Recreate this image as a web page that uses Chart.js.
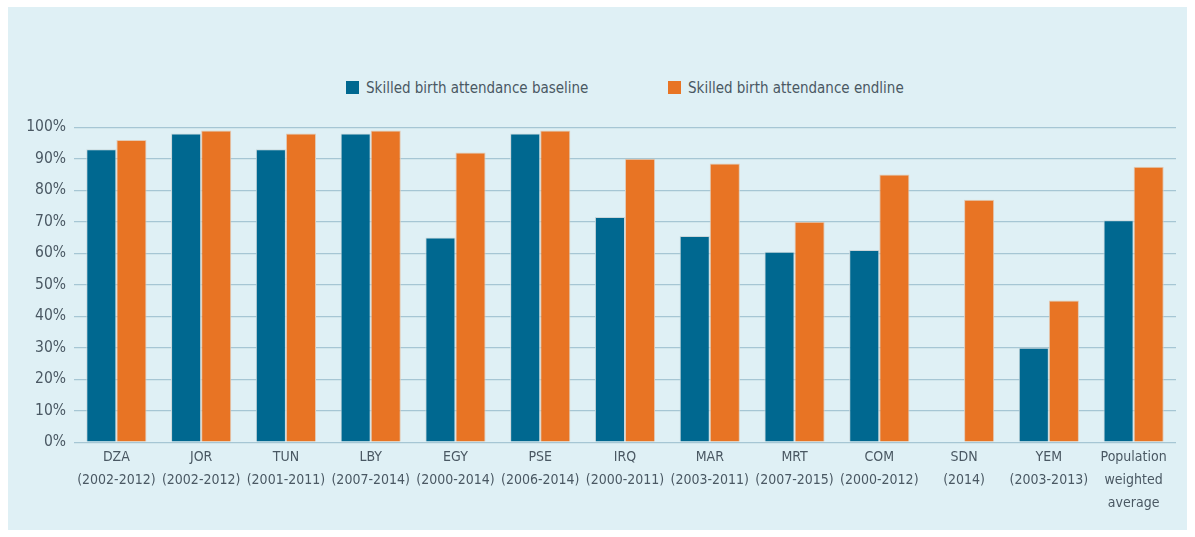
<!DOCTYPE html>
<html>
<head>
<meta charset="utf-8">
<script src="https://cdn.jsdelivr.net/npm/chart.js@4/dist/chart.umd.min.js"></script>
<style>
  body { margin: 0; background: #fff; font-family: "DejaVu Sans Condensed", "Liberation Sans", sans-serif; }
  .panel { position: absolute; left: 8px; top: 7px; width: 1179px; height: 523px; background: #dff0f5; }
  .legend { position: absolute; top: 70px; left: 0; width: 100%; height: 22px; }
  .legend span { position: absolute; top: 0; font-size: 15px; color: #4a5863; line-height: 22px; white-space: nowrap; }
  .legend i { display: inline-block; width: 13px; height: 13px; margin-right: 7px; vertical-align: -1px; }
  .chart-box { position: absolute; left: 0; top: 103px; width: 1179px; height: 420px; }
</style>
</head>
<body>
<div class="panel">
  <div class="legend" id="legend"></div>
  <div class="chart-box"><canvas class="my-chart"></canvas></div>
</div>
<script>
const categories = [
  ["DZA", "(2002-2012)"],
  ["JOR", "(2002-2012)"],
  ["TUN", "(2001-2011)"],
  ["LBY", "(2007-2014)"],
  ["EGY", "(2000-2014)"],
  ["PSE", "(2006-2014)"],
  ["IRQ", "(2000-2011)"],
  ["MAR", "(2003-2011)"],
  ["MRT", "(2007-2015)"],
  ["COM", "(2000-2012)"],
  ["SDN", "(2014)"],
  ["YEM", "(2003-2013)"],
  ["Population", "weighted", "average"],
];
const baseline = [93, 98, 93, 98, 65, 98, 71.5, 65.5, 60.5, 61, null, 30, 70.5];
const endline = [96, 99, 98, 99, 92, 99, 90, 88.5, 70, 85, 77, 45, 87.5];
const seriesNames = ["Skilled birth attendance baseline", "Skilled birth attendance endline"];
const seriesColors = ["#006890", "#e87424"];

const textColor = "#4a5863";
const fontFamily = '"DejaVu Sans Condensed", "Liberation Sans", sans-serif';

// simple html legend, placed like the original
const legendEl = document.getElementById("legend");
const legendLeft = [338, 660];
seriesNames.forEach((name, i) => {
  const s = document.createElement("span");
  s.style.left = legendLeft[i] + "px";
  s.innerHTML = '<i style="background:' + seriesColors[i] + '"></i>' + name;
  legendEl.appendChild(s);
});

const myChart = document.querySelector(".my-chart");

new Chart(myChart, {
  type: "bar",
  data: {
    labels: categories,
    datasets: [
      {
        label: seriesNames[0],
        data: baseline,
        backgroundColor: seriesColors[0],
        borderColor: "#c9d6da",
        borderWidth: 1,
      },
      {
        label: seriesNames[1],
        data: endline,
        backgroundColor: seriesColors[1],
        borderColor: "#e2c9b4",
        borderWidth: 1,
      },
    ],
  },
  options: {
    responsive: true,
    maintainAspectRatio: false,
    animation: false,
    datasets: {
      bar: { categoryPercentage: 0.71, barPercentage: 1.0 },
    },
    layout: { padding: { top: 16, right: 11, bottom: 19, left: 0 } },
    scales: {
      x: {
        grid: { display: false },
        border: { display: false },
        ticks: {
          color: textColor,
          font: { family: fontFamily, size: 14, lineHeight: 1.64 },
          padding: -4,
          maxRotation: 0,
          autoSkip: false,
        },
      },
      y: {
        min: 0,
        max: 100,
        afterFit: (scale) => { scale.width = 66; },
        grid: { color: "#a6c6d4", lineWidth: 1.2, drawTicks: false },
        border: { display: false },
        ticks: {
          stepSize: 10,
          color: textColor,
          padding: 8,
          font: { family: fontFamily, size: 15.5 },
          callback: (v) => v + "%",
        },
      },
    },
    plugins: {
      legend: { display: false },
      tooltip: { enabled: true },
    },
  },
});
</script>
</body>
</html>
